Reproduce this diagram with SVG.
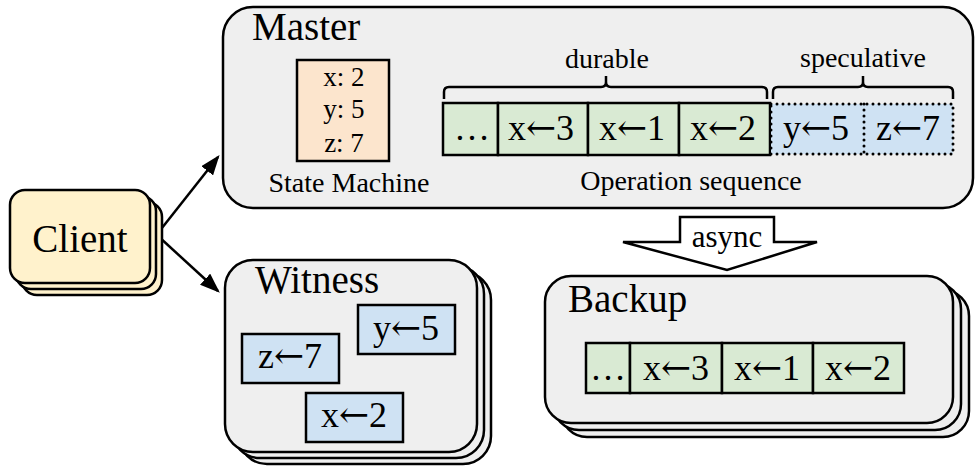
<svg xmlns="http://www.w3.org/2000/svg" width="975" height="466" viewBox="0 0 975 466">
<style>
text{font-family:"Liberation Serif","Times New Roman",serif;fill:#000}
.title{font-size:39px}
.lbl{font-size:28px}
.cell{font-size:36px;text-anchor:middle}
.arr{font-family:"DejaVu Serif",serif}
.box{stroke:#000;stroke-width:2.5}
.panel{fill:#efefef;stroke:#000;stroke-width:2.5}
.green{fill:#d9ead3;stroke:#000;stroke-width:2.5}
.blue{fill:#cfe2f3;stroke:#000;stroke-width:2.5}
.dotted{fill:none;stroke:#000;stroke-width:3;stroke-dasharray:0 6;stroke-linecap:round}
.brace{fill:none;stroke:#000;stroke-width:2.5}
.mid{text-anchor:middle}
</style>
<defs>
<marker id="ah" markerWidth="8" markerHeight="6" refX="7" refY="3" orient="auto" markerUnits="strokeWidth">
<path d="M0,0 L8,3 L0,6 Z" fill="#000"/>
</marker>
</defs>
<rect width="975" height="466" fill="#fff"/>

<g id="connectors">
<line x1="158" y1="233" x2="218" y2="157" stroke="#000" stroke-width="2.5" marker-end="url(#ah)"/>
<line x1="158" y1="236" x2="218" y2="291" stroke="#000" stroke-width="2.5" marker-end="url(#ah)"/>
<g id="async">
<path d="M680,217 H774 V242 H817 L727,270 L623,242 H680 Z" fill="#fff" stroke="#000" stroke-width="2.5" stroke-linejoin="miter"/>
<text x="727" y="247" class="mid" style="font-size:31px">async</text>
</g>
</g>

<g id="client">
<rect x="22" y="202" width="140" height="93" rx="15" fill="#fff2cc" class="box"/>
<rect x="16" y="196" width="140" height="93" rx="15" fill="#fff2cc" class="box"/>
<rect x="10" y="190" width="140" height="93" rx="15" fill="#fff2cc" class="box"/>
<text x="80" y="252" class="mid" style="font-size:39px">Client</text>
</g>

<g id="master">
<rect x="223" y="7" width="750" height="201" rx="30" class="panel"/>
<text x="252" y="40" class="title">Master</text>
<g id="state-machine">
<rect x="297" y="60" width="92" height="101" fill="#fce5cd" class="box"/>
<text x="344" y="86" class="mid" style="font-size:27px">x: 2</text>
<text x="344" y="118" class="mid" style="font-size:27px">y: 5</text>
<text x="344" y="152" class="mid" style="font-size:27px">z: 7</text>
<text x="349" y="192" class="lbl mid">State Machine</text>
</g>
<g id="operation-sequence">
<path class="brace" d="M444,99 V92 Q444,87 449,87 H601 Q606,87 606,82 V76 M606,82 Q606,87 611,87 H762 Q767,87 767,92 V99"/>
<text x="607" y="68" class="lbl mid">durable</text>
<path class="brace" d="M773,99 V92 Q773,87 778,87 H858 Q863,87 863,82 V76 M863,82 Q863,87 868,87 H948 Q953,87 953,92 V99"/>
<text x="863" y="67" class="lbl mid">speculative</text>
<rect x="443" y="103" width="55" height="52" class="green"/>
<rect x="498" y="103" width="90" height="52" class="green"/>
<rect x="588" y="103" width="91" height="52" class="green"/>
<rect x="679" y="103" width="91" height="52" class="green"/>
<rect x="771" y="104" width="182" height="50" fill="#cfe2f3"/>
<path class="dotted" d="M771,104 H953 V154 H771 Z M864,104 V154"/>
<text x="472" y="140" class="cell">…</text>
<text x="541" y="140" class="cell">x<tspan class="arr">←</tspan>3</text>
<text x="632" y="140" class="cell">x<tspan class="arr">←</tspan>1</text>
<text x="723" y="140" class="cell">x<tspan class="arr">←</tspan>2</text>
<text x="816" y="140" class="cell">y<tspan class="arr">←</tspan>5</text>
<text x="908" y="140" class="cell">z<tspan class="arr">←</tspan>7</text>
<text x="691" y="190" class="lbl mid">Operation sequence</text>
</g>
</g>

<g id="witness">
<rect x="239" y="272" width="252" height="192" rx="28" class="panel"/>
<rect x="232" y="266" width="252" height="192" rx="28" class="panel"/>
<rect x="225" y="260" width="252" height="192" rx="28" class="panel"/>
<text x="255" y="293" class="title">Witness</text>
<rect x="358" y="305" width="97" height="49" class="blue"/>
<text x="406" y="340" class="cell">y<tspan class="arr">←</tspan>5</text>
<rect x="242" y="334" width="97" height="49" class="blue"/>
<text x="290" y="368" class="cell">z<tspan class="arr">←</tspan>7</text>
<rect x="306" y="393" width="97" height="49" class="blue"/>
<text x="354" y="427" class="cell">x<tspan class="arr">←</tspan>2</text>
</g>

<g id="backup">
<rect x="561" y="290" width="408" height="147" rx="26" class="panel"/>
<rect x="553" y="283" width="408" height="147" rx="26" class="panel"/>
<rect x="545" y="276" width="408" height="147" rx="26" class="panel"/>
<text x="568" y="312" class="title">Backup</text>
<rect x="586" y="343" width="44" height="50" class="green"/>
<rect x="630" y="343" width="92" height="50" class="green"/>
<rect x="722" y="343" width="91" height="50" class="green"/>
<rect x="813" y="343" width="91" height="50" class="green"/>
<text x="608" y="380" class="cell">…</text>
<text x="676" y="380" class="cell">x<tspan class="arr">←</tspan>3</text>
<text x="767" y="380" class="cell">x<tspan class="arr">←</tspan>1</text>
<text x="858" y="380" class="cell">x<tspan class="arr">←</tspan>2</text>
</g>
</svg>
